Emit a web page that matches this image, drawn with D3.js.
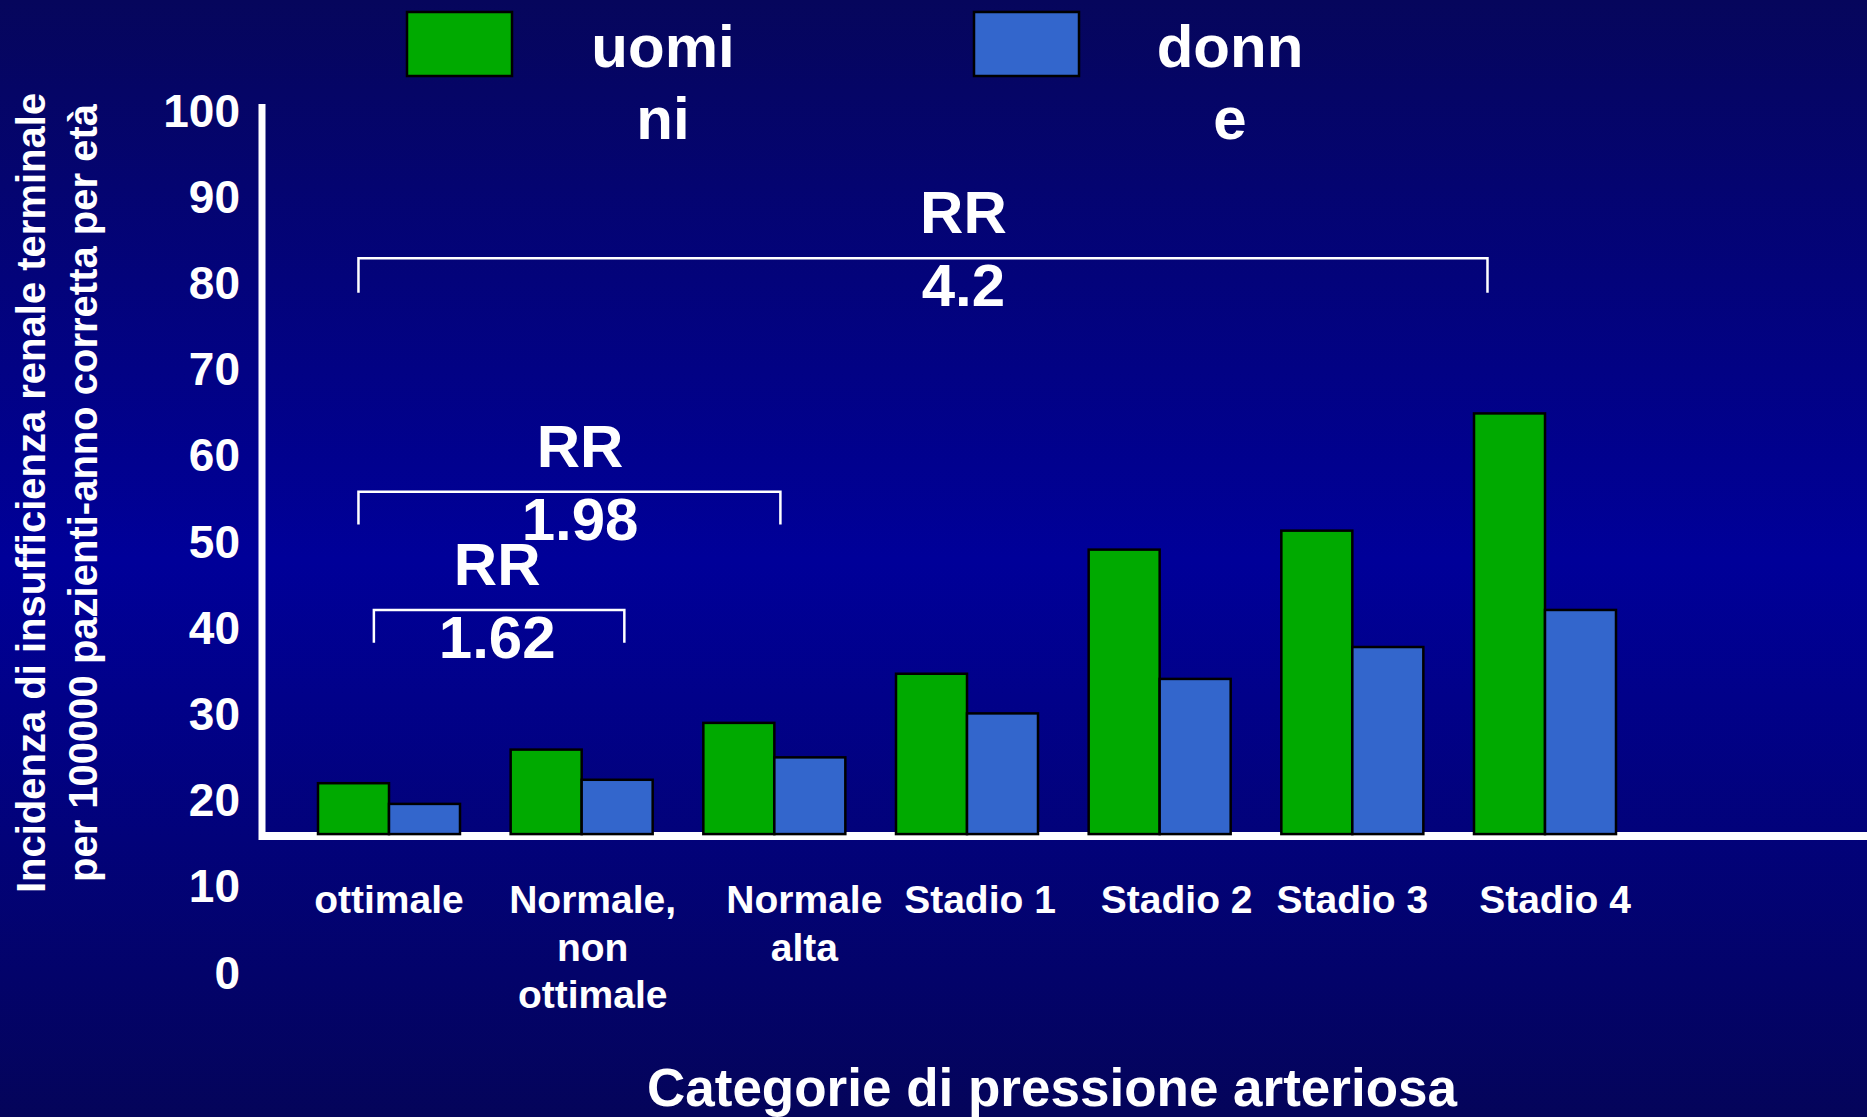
<!DOCTYPE html>
<html>
<head>
<meta charset="utf-8">
<script src="https://cdn.jsdelivr.net/npm/d3@7"></script>
<style>
  body { margin: 0; overflow: hidden; background: #000080; }
  text { font-family: "Liberation Sans", Arial, sans-serif; font-weight: bold; fill: #fff; }
</style>
</head>
<body>
<div id="chart"></div>
<script>
// dati
const categories = ["ottimale", "Normale,\nnon\nottimale", "Normale\nalta", "Stadio 1", "Stadio 2", "Stadio 3", "Stadio 4"];
const series = ["uomini", "donne"];
const seriesLabels = ["uomi\nni", "donn\ne"];
const uomini = [21.9, 25.8, 28.9, 34.6, 49.0, 51.2, 64.8];
const donne = [19.5, 22.3, 24.9, 30.0, 34.0, 37.7, 42.0];
const yTicks = [0, 10, 20, 30, 40, 50, 60, 70, 80, 90, 100];
const baseValue = 16; // le barre partono dalla linea dell'asse

// rischio relativo (parentesi sopra le barre)
const rrValues = ["4.2", "1.98", "1.62"];
const rrLevel = [82.8, 55.7, 42.0];
const rrDrop = [78.8, 51.9, 38.2];
const rrFrom = [0.21, 0.21, 0.29];   // in passi di categoria
const rrTo = [6.07, 2.40, 1.59];
const rrTextAt = [3.35, 1.36, 0.93];

const colors = { uomini: "#00aa00", donne: "#3366cc" };
const W = 1867, H = 1117;
// le caselle di testo delle categorie non sono centrate esattamente
const labelShift = [0, 11, 30, 13, 17, 0, 10];

const svg = d3.select("#chart").append("svg")
  .attr("width", W).attr("height", H);

// sfondo sfumato
const grad = svg.append("defs").append("linearGradient")
  .attr("id", "bg").attr("x1", 0).attr("y1", 0).attr("x2", 0).attr("y2", 1);
grad.append("stop").attr("offset", "0%").attr("stop-color", "#06065c");
grad.append("stop").attr("offset", "50%").attr("stop-color", "#000099");
grad.append("stop").attr("offset", "100%").attr("stop-color", "#04045a");
svg.append("rect").attr("width", W).attr("height", H).attr("fill", "url(#bg)");

const y = d3.scaleLinear().domain([0, 100]).range([972, 110]);
const x0 = d3.scaleBand().domain(categories).range([318, 1616])
  .paddingInner(0.263).paddingOuter(0);
const x1 = d3.scaleBand().domain(series).range([0, x0.bandwidth()]);
const step = x0.step();
const xAt = t => x0.range()[0] + t * step;

// assi
const axisX = 262;
svg.append("line")
  .attr("x1", axisX).attr("x2", axisX)
  .attr("y1", 104).attr("y2", y(baseValue) + 6)
  .attr("stroke", "#fff").attr("stroke-width", 7);
svg.append("line")
  .attr("x1", axisX).attr("x2", W)
  .attr("y1", y(baseValue) + 2).attr("y2", y(baseValue) + 2)
  .attr("stroke", "#fff").attr("stroke-width", 8);

// etichette asse y
svg.append("g").selectAll("text").data(yTicks).enter().append("text")
  .attr("x", 240)
  .attr("y", d => y(d))
  .attr("dy", "0.36em")
  .attr("text-anchor", "end")
  .attr("font-size", 46)
  .text(d => d);

// barre
const rows = categories.map((c, i) => ({ cat: c, uomini: uomini[i], donne: donne[i] }));
svg.append("g").selectAll("g").data(rows).enter().append("g")
  .attr("transform", d => `translate(${x0(d.cat)},0)`)
  .selectAll("rect")
  .data(d => series.map(s => ({ key: s, value: d[s] })))
  .enter().append("rect")
  .attr("x", d => x1(d.key))
  .attr("y", d => y(d.value))
  .attr("width", x1.bandwidth())
  .attr("height", d => y(baseValue) - y(d.value))
  .attr("fill", d => colors[d.key])
  .attr("stroke", "#000")
  .attr("stroke-width", 2.5);

// etichette categorie
const catLabels = svg.append("g").selectAll("text").data(categories).enter().append("text")
  .attr("text-anchor", "middle")
  .attr("font-size", 39)
  .attr("x", (d, i) => x0(d) + x0.bandwidth() / 2 + labelShift[i])
  .attr("y", 913);
catLabels.selectAll("tspan")
  .data(d => d.split("\n"))
  .enter().append("tspan")
  .attr("x", function () { return d3.select(this.parentNode).attr("x"); })
  .attr("dy", (d, i) => i === 0 ? 0 : 47.6)
  .text(d => d);

// parentesi RR
rrValues.forEach((v, i) => {
  const yl = y(rrLevel[i]), yd = y(rrDrop[i]);
  const xa = xAt(rrFrom[i]), xb = xAt(rrTo[i]);
  svg.append("path")
    .attr("d", `M${xa},${yd}V${yl}H${xb}V${yd}`)
    .attr("fill", "none").attr("stroke", "#fff").attr("stroke-width", 2.5);
  const t = svg.append("text")
    .attr("text-anchor", "middle").attr("font-size", 60);
  t.append("tspan").attr("x", xAt(rrTextAt[i])).attr("y", yl - 25).text("RR");
  t.append("tspan").attr("x", xAt(rrTextAt[i])).attr("y", yl + 48).text(v);
});

// legenda
const legendX = [407, 974];
series.forEach((s, i) => {
  svg.append("rect")
    .attr("x", legendX[i]).attr("y", 12)
    .attr("width", 105).attr("height", 64)
    .attr("fill", colors[s]).attr("stroke", "#000").attr("stroke-width", 2.5);
  const t = svg.append("text").attr("text-anchor", "middle").attr("font-size", 60);
  seriesLabels[i].split("\n").forEach((line, j) => {
    t.append("tspan").attr("x", legendX[i] + 256).attr("y", 67 + j * 72).text(line);
  });
});

// titolo asse y
const yTitle = svg.append("text")
  .attr("text-anchor", "middle")
  .attr("font-size", 40)
  .attr("transform", "translate(0,493) rotate(-90)");
yTitle.append("tspan").attr("x", 0).attr("y", 45).text("Incidenza di insufficienza renale terminale");
yTitle.append("tspan").attr("x", 0).attr("y", 97).text("per 100000 pazienti-anno corretta per età");

// titolo asse x
svg.append("text")
  .attr("x", 1052).attr("y", 1106)
  .attr("text-anchor", "middle")
  .attr("font-size", 53)
  .text("Categorie di pressione arteriosa");
</script>
</body>
</html>
